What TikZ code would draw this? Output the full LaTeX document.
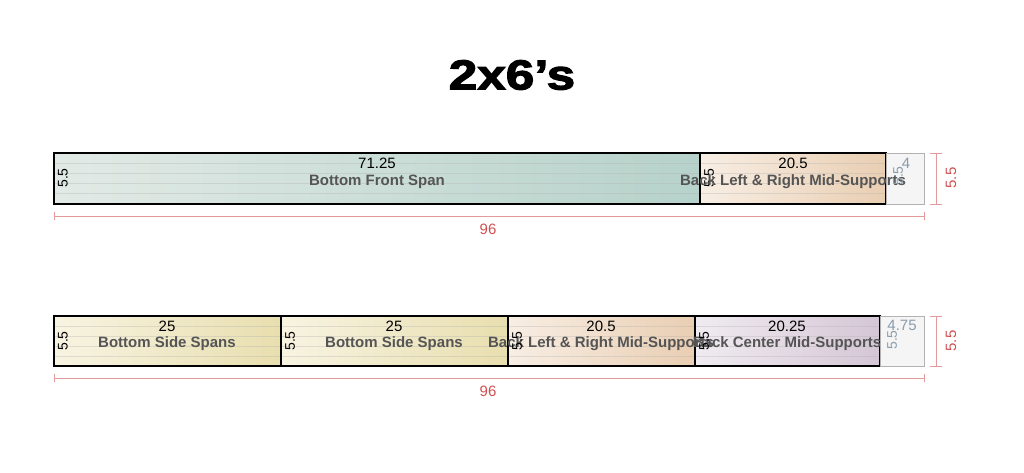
\documentclass[tikz,border=0pt]{standalone}
\usepackage{fontspec}
\setmainfont{Liberation Sans}
\newfontfamily\heavyfont{Liberation Sans}[BoldFeatures={FakeBold=2.5}]
\definecolor{dimred}{HTML}{D05050}
\definecolor{dimline}{HTML}{E29A9A}
\definecolor{remtxt}{HTML}{8A9CAC}
\definecolor{lbl}{HTML}{555555}
\definecolor{tealL}{HTML}{E2EAE6}
\definecolor{tealR}{HTML}{B6D2CA}
\definecolor{peachL}{HTML}{F8EEE4}
\definecolor{peachR}{HTML}{E9CEB2}
\definecolor{yelL}{HTML}{F8F4E2}
\definecolor{yelR}{HTML}{E8DEAE}
\definecolor{purL}{HTML}{F0EBF1}
\definecolor{purR}{HTML}{D5C6D5}
\tikzset{
  boardbox/.style={draw=black, line width=1.5pt},
  rembox/.style={draw=gray!60, fill=gray!8, line width=0.6pt},
  grain/.style={draw=gray!60, opacity=0.35, line width=0.5pt},
  numtxt/.style={font=\fontsize{15}{15}\selectfont, text=black, inner sep=0pt},
  lbltxt/.style={font=\fontsize{15}{15}\selectfont\bfseries, text=lbl, inner sep=0pt},
  sidetxt/.style={font=\fontsize{14}{14}\selectfont, text=black, rotate=90, inner sep=0pt},
  remnum/.style={font=\fontsize{15}{15}\selectfont, text=remtxt, inner sep=0pt},
  remside/.style={font=\fontsize{14}{14}\selectfont, text=remtxt, rotate=90, inner sep=0pt},
  dimln/.style={draw=dimline, line width=0.8pt},
  dimtxt/.style={font=\fontsize{15}{15}\selectfont, text=dimred, inner sep=0pt},
}
\newcommand\boardpiece[5]{% x1,y1,x2,y2,colors
  \fill[#5] (#1,#2) rectangle (#3,#4);
  \foreach \k in {10,20,30,40} {\draw[grain] (#1,#2+\k) -- (#3,#2+\k);}
  \draw[boardbox] (#1,#2) rectangle (#3,#4);
}
\begin{document}
\begin{tikzpicture}[x=1pt,y=-1pt]
\useasboundingbox (0,0) rectangle (1024,472);
\node[font=\fontsize{42}{42}\selectfont\heavyfont\bfseries, xscale=1.22, inner sep=0pt] (title) at (512,75) {2x6’s};

% ---- Board 1
\boardpiece{54}{153}{700}{204}{left color=tealL, right color=tealR}
\boardpiece{700}{153}{886}{204}{left color=peachL, right color=peachR}
\draw[rembox] (886,153) rectangle (924,204);
\node[numtxt] (n1a) at (377,163) {71.25};
\node[lbltxt] (l1a) at (377,182) {Bottom Front Span};
\node[sidetxt] (s1a) at (63,178) {5.5};
\node[numtxt] (n1b) at (793,163) {20.5};
\node[sidetxt] (s1b) at (709,178) {5.5};
\node[lbltxt] (l1b) at (793,182) {Back Left \& Right Mid-Supports};
\node[remside] (s1r) at (898,176) {5.5};
\node[remnum] (n1r) at (906,163) {4};
% dimensions board 1
\coordinate (h1a) at (54,216); \coordinate (h1b) at (924,216);
\draw[dimln] (h1a) -- (h1b);
\draw[dimln] ([yshift=-4]h1a) -- ([yshift=4]h1a);
\draw[dimln] ([yshift=-4]h1b) -- ([yshift=4]h1b);
\node[dimtxt] (d1) at (488,229) {96};
\coordinate (v1a) at (936,153); \coordinate (v1b) at (936,204);
\draw[dimln] (v1a) -- (v1b);
\draw[dimln] ([xshift=-6]v1a) -- ([xshift=6]v1a);
\draw[dimln] ([xshift=-6]v1b) -- ([xshift=6]v1b);
\node[dimtxt, rotate=90] (e1) at (951,178) {5.5};

% ---- Board 2
\boardpiece{54}{316}{281}{366}{left color=yelL, right color=yelR}
\boardpiece{281}{316}{508}{366}{left color=yelL, right color=yelR}
\boardpiece{508}{316}{695}{366}{left color=peachL, right color=peachR}
\boardpiece{695}{316}{880}{366}{left color=purL, right color=purR}
\node[numtxt] (n2a) at (167,326) {25};
\node[lbltxt] (l2a) at (167,344) {Bottom Side Spans};
\node[sidetxt] (s2a) at (63,341) {5.5};
\node[numtxt] (n2b) at (394,326) {25};
\node[lbltxt] (l2b) at (394,344) {Bottom Side Spans};
\node[sidetxt] (s2b) at (290,341) {5.5};
\node[numtxt] (n2c) at (601,326) {20.5};
\node[lbltxt] (l2c) at (601,344) {Back Left \& Right Mid-Supports};
\node[sidetxt] (s2c) at (517,341) {5.5};
\node[numtxt] (n2d) at (787,326) {20.25};
\node[lbltxt] (l2d) at (787,344) {Back Center Mid-Supports};
\node[sidetxt] (s2d) at (704,341) {5.5};
\draw[rembox] (880,316) rectangle (924,366);
\node[remside] (s2r) at (892,340) {5.5};
\node[remnum] (n2r) at (902,325) {4.75};
% dimensions board 2
\coordinate (h2a) at (54,378); \coordinate (h2b) at (924,378);
\draw[dimln] (h2a) -- (h2b);
\draw[dimln] ([yshift=-4]h2a) -- ([yshift=4]h2a);
\draw[dimln] ([yshift=-4]h2b) -- ([yshift=4]h2b);
\node[dimtxt] (d2) at (488,391) {96};
\coordinate (v2a) at (936,316); \coordinate (v2b) at (936,366);
\draw[dimln] (v2a) -- (v2b);
\draw[dimln] ([xshift=-6]v2a) -- ([xshift=6]v2a);
\draw[dimln] ([xshift=-6]v2b) -- ([xshift=6]v2b);
\node[dimtxt, rotate=90] (e2) at (951,341) {5.5};
\end{tikzpicture}
\end{document}
